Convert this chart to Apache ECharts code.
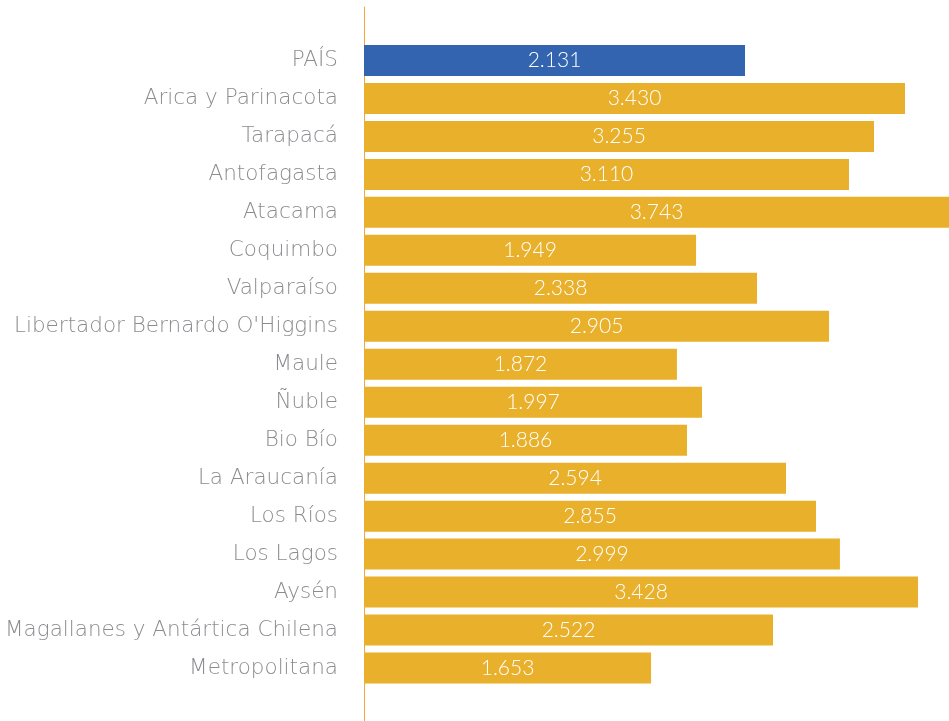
<!DOCTYPE html>
<html>
<head>
<meta charset="utf-8">
<title>Regiones</title>
<script src="https://cdn.jsdelivr.net/npm/echarts@6/dist/echarts.min.js"></script>
<style>
  html, body { margin: 0; padding: 0; background: #fff; }
  #chart { width: 949px; height: 721px; }
</style>
</head>
<body>
<div id="chart"></div>
<script>
// regiones (de arriba hacia abajo)
const regiones = [
  "PAÍS", "Arica y Parinacota", "Tarapacá", "Antofagasta", "Atacama",
  "Coquimbo", "Valparaíso", "Libertador Bernardo O'Higgins", "Maule",
  "Ñuble", "Bio Bío", "La Araucanía", "Los Ríos", "Los Lagos", "Aysén",
  "Magallanes y Antártica Chilena", "Metropolitana"
];
// largo de cada barra
const largoBarra = [
  2.312, 3.283, 3.095, 2.943, 3.55, 2.015, 2.385, 2.822, 1.899,
  2.051, 1.960, 2.561, 2.743, 2.888, 3.362, 2.482, 1.742
];
// texto que aparece dentro de cada barra
const etiquetas = [
  "2.131", "3.430", "3.255", "3.110", "3.743", "1.949", "2.338", "2.905",
  "1.872", "1.997", "1.886", "2.594", "2.855", "2.999", "3.428", "2.522", "1.653"
];

const AZUL = "#3264b0";
const AMARILLO = "#e8b02b";

let myChart = echarts.init(document.getElementById("chart"));

myChart.setOption({
  animation: false,
  grid: [
    // grilla de las barras
    { left: 364, right: 0, top: 41.5, bottom: 34 },
    // grilla solo para la línea vertical que va de arriba a abajo
    { left: 364, right: 0, top: 7, bottom: 0 }
  ],
  xAxis: [
    { type: "value", gridIndex: 0, min: 0, max: 3.55, show: false },
    { type: "value", gridIndex: 1, min: 0, max: 1, show: false }
  ],
  yAxis: [
    {
      type: "category",
      gridIndex: 0,
      data: regiones,
      inverse: true,
      axisLine: { show: false },
      axisTick: { show: false },
      splitLine: { show: false },
      axisLabel: {
        margin: 26,
        color: "#8c8c90",
        fontSize: 21.5,
        fontFamily: "DejaVu Sans",
        fontWeight: 200,
        padding: [4, 0, 0, 0]
      }
    },
    {
      type: "value",
      gridIndex: 1,
      min: 0,
      max: 1,
      axisLine: { show: true, lineStyle: { color: "#f6a43e", width: 1 } },
      axisTick: { show: false },
      axisLabel: { show: false },
      splitLine: { show: false }
    }
  ],
  series: [
    {
      type: "bar",
      xAxisIndex: 0,
      yAxisIndex: 0,
      barWidth: 31,
      data: largoBarra.map((v, i) => ({
        value: v,
        itemStyle: { color: i === 0 ? AZUL : AMARILLO }
      })),
      label: {
        show: true,
        position: "inside",
        color: "#ffffff",
        fontSize: 21,
        fontFamily: "Lato",
        fontWeight: 300,
        formatter: (p) => etiquetas[p.dataIndex]
      }
    }
  ]
});
</script>
</body>
</html>
